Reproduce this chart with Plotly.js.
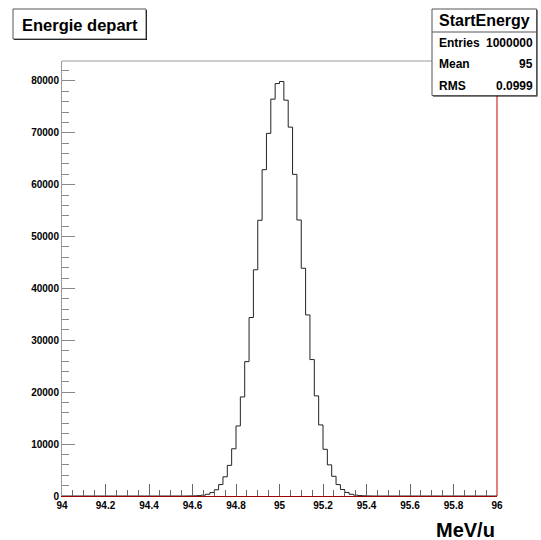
<!DOCTYPE html>
<html>
<head>
<meta charset="utf-8">
<script src="https://cdn.plot.ly/plotly-3.0.1.min.js"></script>
<style>html,body{margin:0;padding:0;background:#fff;}#plot{width:541px;height:540px;}</style>
</head>
<body>
<div id="plot"></div>
<script>
// ---- data ----
const histName = "StartEnergy";
const histTitle = "Energie depart";
const xAxisTitle = "MeV/u";
const xMin = 94;
const xMax = 96;
const binWidth = 0.02;
const counts = [
  0,0,0,0,0,0,0,0,0,0,
  0,0,0,0,0,0,0,0,0,0,
  0,0,0,0,0,0,0,0,0,15,
  30,70,160,340,660,1200,2200,3700,5900,9100,
  13500,19100,25900,34400,43600,53150,62900,69900,76500,79500,
  79900,76300,71100,62000,53200,43900,34900,26300,19300,13700,
  9000,6000,3800,2200,1250,680,340,170,80,40,
  15,0,0,0,0,0,0,0,0,0,
  0,0,0,0,0,0,0,0,0,0,
  0,0,0,0,0,0,0,0,0,0
];
const statLabels = ["Entries", "Mean", "RMS"];
const statValues = ["1000000", "95", "0.0999"];
const yMax = 83850;

// ---- build step outline from bin edges ----
const edges = [], ys = [];
for (let i = 0; i < counts.length; i++) { edges.push(xMin + i * binWidth); ys.push(counts[i]); }
edges.push(xMin + counts.length * binWidth); ys.push(counts[counts.length - 1]);

// ---- layout helpers (pixel -> paper) ----
const W = 541, H = 540, L = 62, R = 44, T = 61, B = 44;
const PW = W - L - R, PH = H - T - B;
const px = x => (x - L) / PW;
const py = y => (H - B - y) / PH;
const FONT = "Liberation Sans, Arial, Helvetica, sans-serif";

const trace = {
  x: edges, y: ys, type: "scatter", mode: "lines",
  line: {shape: "hv", color: "#222", width: 1},
  hoverinfo: "skip", cliponaxis: true
};

const shapes = [
  // frame top & right
  {type: "line", xref: "paper", yref: "paper", x0: 0, x1: 1, y0: 1, y1: 1, line: {color: "#9a9a9a", width: 1}},
  {type: "line", xref: "paper", yref: "paper", x0: 1, x1: 1, y0: 0, y1: 1, line: {color: "#cc0000", width: 1}},
  // title box shadow + box
  {type: "rect", xref: "paper", yref: "paper", x0: px(14), x1: px(147), y0: py(10), y1: py(40), line: {width: 0}, fillcolor: "#000"},
  {type: "rect", xref: "paper", yref: "paper", x0: px(13), x1: px(146), y0: py(9), y1: py(39), line: {color: "#555", width: 1}, fillcolor: "#fff"},
  // stats box shadow + box
  {type: "rect", xref: "paper", yref: "paper", x0: px(433), x1: px(537.5), y0: py(10), y1: py(96.5), line: {width: 0}, fillcolor: "#000"},
  {type: "rect", xref: "paper", yref: "paper", x0: px(432), x1: px(536.5), y0: py(9), y1: py(95.5), line: {color: "#555", width: 1}, fillcolor: "#fff"},
  {type: "line", xref: "paper", yref: "paper", x0: px(432), x1: px(536.5), y0: py(32), y1: py(32), line: {color: "#555", width: 1}}
];

const annotations = [
  {xref: "paper", yref: "paper", x: px(79.5), y: py(24.5), text: histTitle, showarrow: false, xanchor: "center", yanchor: "middle",
   font: {family: FONT, size: 16.5, weight: "bold", color: "#000"}},
  {xref: "paper", yref: "paper", x: px(484.5), y: py(20.5), text: histName, showarrow: false, xanchor: "center", yanchor: "middle",
   font: {family: FONT, size: 16, weight: "bold", color: "#000"}},
  {xref: "paper", yref: "paper", x: 1, y: py(530), text: xAxisTitle, showarrow: false, xanchor: "right", yanchor: "middle",
   font: {family: FONT, size: 20, weight: "bold", color: "#000"}}
];
const rowY = [43, 64.5, 86];
for (let i = 0; i < statLabels.length; i++) {
  annotations.push({xref: "paper", yref: "paper", x: px(436.5), y: py(rowY[i]), text: statLabels[i], showarrow: false,
    xanchor: "left", yanchor: "middle", font: {family: FONT, size: 12, weight: "bold", color: "#000"}});
  annotations.push({xref: "paper", yref: "paper", x: px(535), y: py(rowY[i]), text: statValues[i], showarrow: false,
    xanchor: "right", yanchor: "middle", font: {family: FONT, size: 12, weight: "bold", color: "#000"}});
}

const layout = {
  width: W, height: H,
  margin: {l: L, r: R, t: T, b: B, pad: 0},
  paper_bgcolor: "#fff", plot_bgcolor: "#fff",
  showlegend: false,
  xaxis: {
    range: [xMin, xMax], showgrid: false, zeroline: false,
    showline: true, linecolor: "#a00000", linewidth: 1,
    ticks: "inside", ticklen: 12, tickwidth: 1, tickcolor: "#666",
    tick0: 94, dtick: 0.2,
    tickfont: {family: FONT, size: 10, weight: "bold", color: "#000"},
    minor: {ticks: "inside", ticklen: 6, tickcolor: "#666", tickwidth: 1, dtick: 0.05, tick0: 94, showgrid: false},
    fixedrange: true
  },
  yaxis: {
    range: [0, yMax], showgrid: false, zeroline: false,
    showline: true, linecolor: "#9a9a9a", linewidth: 1,
    ticks: "inside", ticklen: 13, tickwidth: 1, tickcolor: "#888",
    tick0: 0, dtick: 10000, tickformat: "d",
    tickfont: {family: FONT, size: 10, weight: "bold", color: "#000"},
    minor: {ticks: "inside", ticklen: 7, tickcolor: "#888", tickwidth: 1, dtick: 2000, tick0: 0, showgrid: false},
    fixedrange: true
  },
  shapes: shapes,
  annotations: annotations
};

Plotly.newPlot("plot", [trace], layout, {displayModeBar: false, staticPlot: true});
</script>
</body>
</html>
